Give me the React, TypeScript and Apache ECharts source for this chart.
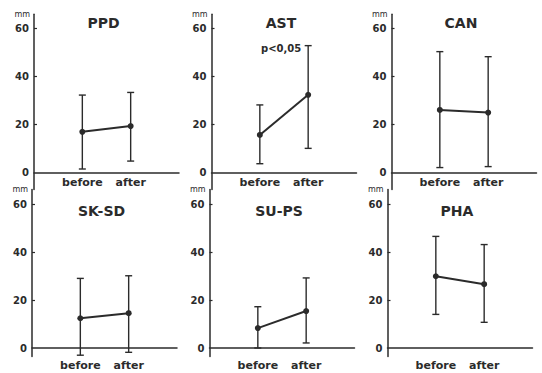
import React, { useEffect, useRef } from "react";
import * as echarts from "echarts";

const categories = ["before", "after"];
const panelTitles = ["PPD", "AST", "CAN", "SK-SD", "SU-PS", "PHA"];
const yTicks = [0, 20, 40, 60];

const meanPPD = [17.0, 19.4];
const highPPD = [32.3, 33.4];
const lowPPD = [1.5, 4.8];

const meanAST = [15.7, 32.4];
const highAST = [28.2, 52.9];
const lowAST = [3.7, 10.1];

const meanCAN = [26.1, 25.0];
const highCAN = [50.4, 48.3];
const lowCAN = [2.1, 2.5];

const meanSKSD = [12.4, 14.5];
const highSKSD = [29.0, 30.1];
const lowSKSD = [-3.0, -1.8];

const meanSUPS = [8.3, 15.4];
const highSUPS = [17.2, 29.2];
const lowSUPS = [0.0, 2.1];

const meanPHA = [29.9, 26.6];
const highPHA = [46.5, 43.1];
const lowPHA = [14.0, 10.7];

const annotation = "p<0,05";

const means = [meanPPD, meanAST, meanCAN, meanSKSD, meanSUPS, meanPHA];
const highs = [highPPD, highAST, highCAN, highSKSD, highSUPS, highPHA];
const lows = [lowPPD, lowAST, lowCAN, lowSKSD, lowSUPS, lowPHA];

const INK = "#2b2b2b";
const FONT = "'DejaVu Sans', sans-serif";

// layout per panel (positions only)
const gridLefts = [34, 211.5, 391.5, 32, 209.5, 387.5];
const gridWidth = 145;
const topRow = { top: 14.2, height: 175.2, min: -7, labelMargin: -12, titleTop: -3 };
const bottomRow = { top: 189.6, height: 166.8, min: -3.5, labelMargin: 4, titleTop: 9 };

export default function App() {
  const ref = useRef<HTMLDivElement>(null);
  useEffect(() => {
    if (!ref.current) return;
    const chart = echarts.init(ref.current, null, { renderer: "svg" });

    const grids: any[] = [];
    const xAxes: any[] = [];
    const yAxes: any[] = [];
    const series: any[] = [];
    const titles: any[] = [];

    panelTitles.forEach((name, i) => {
      const row = i < 3 ? topRow : bottomRow;
      grids.push({
        left: gridLefts[i],
        top: row.top,
        width: gridWidth,
        height: row.height,
      });
      xAxes.push({
        type: "value",
        gridIndex: i,
        min: 0,
        max: 3,
        interval: 1,
        axisLine: { onZero: true, lineStyle: { color: INK, width: 1.5 } },
        axisTick: { show: false },
        splitLine: { show: false },
        axisLabel: {
          color: INK,
          fontFamily: FONT,
          fontWeight: "bold",
          fontSize: 11,
          margin: row.labelMargin,
          formatter: (v: number) =>
            v >= 1 && v <= categories.length ? categories[v - 1] : "",
        },
      });
      yAxes.push({
        type: "value",
        gridIndex: i,
        min: row.min,
        max: 66,
        name: "mm",
        nameLocation: "end",
        nameGap: 0,
        nameTextStyle: {
          color: INK,
          fontFamily: FONT,
          fontSize: 8,
          align: "right",
          verticalAlign: "middle",
          padding: [0, 4, 0, 0],
        },
        axisLine: { show: true, onZero: false, lineStyle: { color: INK, width: 1.5 } },
        axisTick: {
          show: true,
          inside: true,
          length: 3,
          customValues: [20, 40, 60],
          lineStyle: { color: INK, width: 1.2 },
        },
        splitLine: { show: false },
        axisLabel: {
          customValues: yTicks,
          color: INK,
          fontFamily: FONT,
          fontWeight: "bold",
          fontSize: 10,
          margin: 5,
        },
      });
      const xs = categories.map((_, k) => k + 1);
      series.push({
        type: "custom",
        xAxisIndex: i,
        yAxisIndex: i,
        data: xs.map((x, k) => [x, lows[i][k], highs[i][k]]),
        renderItem: (params: any, api: any) => {
          const x = api.value(0);
          const lo = api.coord([x, api.value(1)]);
          const hi = api.coord([x, api.value(2)]);
          const cap = 3.5;
          const style = { stroke: INK, lineWidth: 1.4 };
          return {
            type: "group",
            children: [
              { type: "line", shape: { x1: lo[0], y1: lo[1], x2: hi[0], y2: hi[1] }, style },
              { type: "line", shape: { x1: hi[0] - cap, y1: hi[1], x2: hi[0] + cap, y2: hi[1] }, style },
              { type: "line", shape: { x1: lo[0] - cap, y1: lo[1], x2: lo[0] + cap, y2: lo[1] }, style },
            ],
          };
        },
        z: 2,
      });
      series.push({
        type: "line",
        xAxisIndex: i,
        yAxisIndex: i,
        data: xs.map((x, k) => [x, means[i][k]]),
        symbol: "circle",
        symbolSize: 6,
        itemStyle: { color: INK },
        lineStyle: { color: INK, width: 2 },
        z: 3,
      });
      titles.push({
        text: name,
        left: gridLefts[i] + gridWidth / 2 - 8,
        top: row.top + row.titleTop,
        textAlign: "center",
        textStyle: {
          color: INK,
          fontFamily: FONT,
          fontWeight: "bold",
          fontSize: 14,
        },
      });
    });

    chart.setOption({
      animation: false,
      backgroundColor: "#ffffff",
      title: titles,
      grid: grids,
      xAxis: xAxes,
      yAxis: yAxes,
      series,
      graphic: [
        {
          type: "text",
          left: 261,
          top: 43,
          style: {
            text: annotation,
            fill: INK,
            font: `bold 10px ${FONT}`,
          },
        },
      ],
    });
    return () => chart.dispose();
  }, []);
  return <div ref={ref} style={{ width: 542, height: 373, position: "absolute", left: 0, top: 0 }} />;
}
